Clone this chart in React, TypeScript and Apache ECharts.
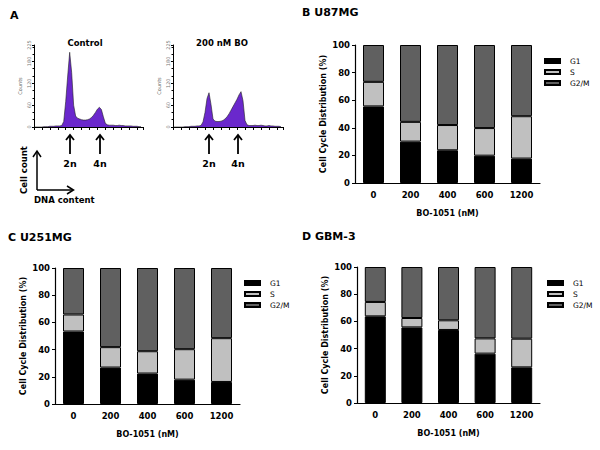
import React, { useEffect, useRef } from "react";
import * as echarts from "echarts";

const doses = ["0", "200", "400", "600", "1200"];
const phases = ["G1", "S", "G2/M"];
const phaseColors = ["#000000", "#c0c0c0", "#606060"];

const u87G1 = [55.5, 30, 23.7, 19.8, 17.7];
const u87S = [17.8, 14.3, 18.3, 20, 30.7];
const u87G2M = [26.7, 55.7, 58, 60.2, 51.6];

const u251G1 = [53.3, 26.8, 22.4, 17.9, 16.2];
const u251S = [12.5, 15, 16.4, 22.4, 32.2];
const u251G2M = [34.2, 58.2, 61.2, 59.7, 51.6];

const gbmG1 = [63.7, 55.6, 53.7, 36.3, 26.2];
const gbmS = [10.6, 6.9, 7.1, 11.2, 21.1];
const gbmG2M = [25.7, 37.5, 39.2, 52.5, 52.7];

// flow cytometry histogram counts per channel bin
const controlCounts = [
  0, 0, 0, 0, 0, 1, 1, 1, 2, 2, 2, 3, 3, 3, 4, 15, 70, 140, 205, 150, 60, 30, 24, 22, 20, 19, 19, 20, 22,
  26, 32, 40, 49, 54, 48, 28, 10, 6, 5, 5, 5, 4, 4, 5, 4, 4, 3, 3, 3, 3, 2, 2, 2, 1, 1,
];
const boCounts = [
  0, 0, 0, 0, 0, 0, 1, 1, 1, 2, 2, 2, 3, 3, 4, 14, 40, 78, 94, 62, 22, 16, 15, 15, 16, 18, 22, 28, 36, 46,
  56, 66, 76, 88, 97, 72, 18, 6, 4, 4, 4, 5, 4, 4, 5, 4, 3, 3, 4, 3, 3, 2, 2, 2, 1,
];
const histTitles = ["Control", "200 nM BO"];

const FONT = "DejaVu Sans";

export default function App() {
  const ref = useRef<HTMLDivElement>(null);
  useEffect(() => {
    document.body.style.margin = "0";
    if (!ref.current) return;
    const chart = echarts.init(ref.current, null, { renderer: "svg" });

    const barGrids = [
      { left: 355, top: 45, width: 185, height: 138 },
      { left: 55, top: 268, width: 185, height: 136 },
      { left: 357, top: 267, width: 183, height: 136 },
    ];
    const histGrids = [
      { left: 34, top: 45, width: 109, height: 82 },
      { left: 173, top: 45, width: 110, height: 82 },
    ];
    const grid = [...histGrids, ...barGrids];

    const histX = histGrids.map((_, i) => ({
      type: "value",
      gridIndex: i,
      min: 0,
      max: 55,
      interval: 4,
      axisLine: { show: true, lineStyle: { color: "#000", width: 1 } },
      axisTick: { show: true, length: 3, lineStyle: { color: "#000" } },
      axisLabel: { show: false },
      splitLine: { show: false },
    }));
    const histY = histGrids.map((_, i) => ({
      type: "value",
      gridIndex: i,
      min: 0,
      max: 225,
      interval: 60,
      name: "Counts",
      nameLocation: "middle",
      nameGap: 12,
      nameTextStyle: { fontSize: 5, color: "#666", fontFamily: FONT },
      axisLine: { show: true, lineStyle: { color: "#000", width: 1 } },
      axisTick: { show: true, length: 2, lineStyle: { color: "#000" } },
      minorTick: { show: true, splitNumber: 3, length: 1.5, lineStyle: { color: "#000" } },
      axisLabel: { show: true, rotate: 90, fontSize: 5, color: "#777", margin: 3, fontFamily: FONT },
      splitLine: { show: false },
    }));

    const barX = barGrids.map((_, i) => ({
      type: "category",
      gridIndex: i + 2,
      data: doses,
      name: "BO-1051 (nM)",
      nameLocation: "middle",
      nameGap: 26,
      nameTextStyle: { fontSize: 8, fontWeight: "bold", color: "#000", fontFamily: FONT },
      axisLine: { show: true, lineStyle: { color: "#000", width: 1.2 } },
      axisTick: { show: false },
      axisLabel: { fontSize: 8.5, fontWeight: "bold", color: "#000", margin: 7, fontFamily: FONT },
    }));
    const barY = barGrids.map((_, i) => ({
      type: "value",
      gridIndex: i + 2,
      min: 0,
      max: 100,
      interval: 20,
      name: "Cell Cycle Distribution (%)",
      nameLocation: "middle",
      nameGap: 28,
      nameTextStyle: { fontSize: 8, fontWeight: "bold", color: "#000", fontFamily: FONT },
      axisLine: { show: true, lineStyle: { color: "#000", width: 1.2 } },
      axisTick: { show: true, length: 3, lineStyle: { color: "#000" } },
      axisLabel: { fontSize: 8.5, fontWeight: "bold", color: "#000", margin: 5, fontFamily: FONT },
      splitLine: { show: false },
    }));

    const histSeries = [controlCounts, boCounts].map((arr, i) => ({
      type: "line",
      xAxisIndex: i,
      yAxisIndex: i,
      data: arr.map((v, j) => [j, v]),
      symbol: "none",
      lineStyle: { color: "#222", width: 0.6 },
      areaStyle: { color: "#6a28cc", opacity: 1 },
      silent: true,
    }));

    const barSets = [
      [u87G1, u87S, u87G2M],
      [u251G1, u251S, u251G2M],
      [gbmG1, gbmS, gbmG2M],
    ];
    const barSeries: any[] = [];
    barSets.forEach((set, g) => {
      set.forEach((vals, p) => {
        barSeries.push({
          type: "bar",
          name: phases[p],
          xAxisIndex: g + 2,
          yAxisIndex: g + 2,
          stack: "s" + g,
          barWidth: 21,
          data: vals,
          itemStyle: { color: phaseColors[p], borderColor: "#000", borderWidth: 1 },
        });
      });
    });

    const legendPos = [
      { left: 544, top: 57 },
      { left: 244, top: 279 },
      { left: 547, top: 279 },
    ];
    const legend = legendPos.map((p) => ({
      ...p,
      orient: "vertical",
      padding: 0,
      data: phases,
      icon: "rect",
      itemWidth: 15,
      itemHeight: 4,
      itemGap: 3,
      selectedMode: false,
      textStyle: { fontSize: 7.5, color: "#000", fontFamily: FONT, padding: [0, 0, 0, 5] },
    }));

    const bold = { fontFamily: FONT, fontWeight: "bold", fill: "#000" };
    const upArrow = (x: number, y1: number, y2: number, w: number, hw: number) => [
      { type: "line", shape: { x1: x, y1, x2: x, y2: y2 + 1 }, style: { stroke: "#000", lineWidth: w } },
      {
        type: "polyline",
        shape: { points: [[x - hw, y2 + hw + 1], [x, y2], [x + hw, y2 + hw + 1]] },
        style: { stroke: "#000", lineWidth: w, fill: "none" },
      },
    ];
    const arrowXs = [70, 100, 209, 238];
    const graphic: any[] = [
      { type: "text", x: 10, y: 15, style: { ...bold, text: "A", fontSize: 11, verticalAlign: "middle" } },
      { type: "text", x: 302, y: 12, style: { ...bold, text: "B U87MG", fontSize: 11, verticalAlign: "middle" } },
      { type: "text", x: 8, y: 237, style: { ...bold, text: "C U251MG", fontSize: 11, verticalAlign: "middle" } },
      { type: "text", x: 302, y: 236, style: { ...bold, text: "D GBM-3", fontSize: 11, verticalAlign: "middle" } },
      { type: "text", x: 85, y: 43, style: { ...bold, text: histTitles[0], fontSize: 8.5, align: "center", verticalAlign: "middle" } },
      { type: "text", x: 222, y: 43, style: { ...bold, text: histTitles[1], fontSize: 8.5, align: "center", verticalAlign: "middle" } },
    ];
    arrowXs.forEach((x, i) => {
      graphic.push(...upArrow(x, 154, 135, 1.8, 4));
      graphic.push({
        type: "text",
        x,
        y: 163,
        style: { ...bold, text: i % 2 === 0 ? "2n" : "4n", fontSize: 9.5, align: "center", verticalAlign: "middle" },
      });
    });
    graphic.push(
      { type: "line", shape: { x1: 37, y1: 190, x2: 37, y2: 152 }, style: { stroke: "#000", lineWidth: 1.5 } },
      { type: "polyline", shape: { points: [[33, 157], [37, 151], [41, 157]] }, style: { stroke: "#000", lineWidth: 1.5, fill: "none" } },
      { type: "line", shape: { x1: 37, y1: 190, x2: 73, y2: 190 }, style: { stroke: "#000", lineWidth: 1.5 } },
      { type: "polyline", shape: { points: [[67, 186], [73.5, 190], [67, 194]] }, style: { stroke: "#000", lineWidth: 1.5, fill: "none" } },
      {
        type: "text",
        x: 24,
        y: 170,
        rotation: Math.PI / 2,
        style: { ...bold, text: "Cell count", fontSize: 8.5, align: "center", verticalAlign: "middle" },
      },
      { type: "text", x: 34, y: 200, style: { ...bold, text: "DNA content", fontSize: 8.5, verticalAlign: "middle" } }
    );

    chart.setOption({
      animation: false,
      backgroundColor: "#fff",
      grid,
      xAxis: [...histX, ...barX],
      yAxis: [...histY, ...barY],
      legend,
      series: [...histSeries, ...barSeries],
      graphic,
    });
    return () => chart.dispose();
  }, []);
  return <div ref={ref} style={{ width: 600, height: 450 }} />;
}
